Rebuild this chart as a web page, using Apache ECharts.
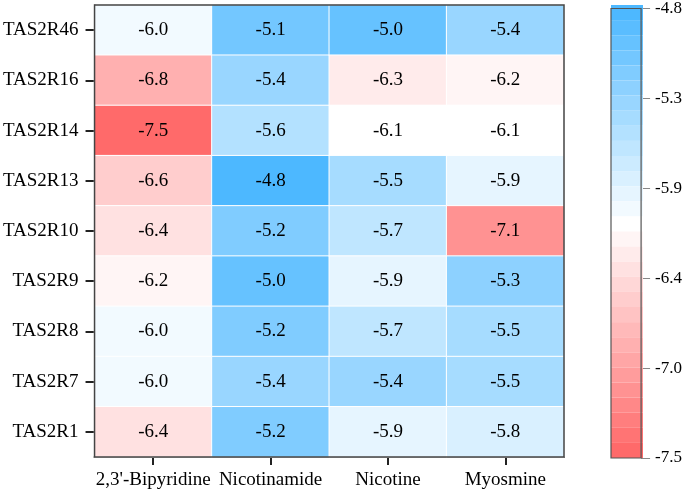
<!DOCTYPE html>
<html>
<head>
<meta charset="utf-8">
<style>html,body{margin:0;padding:0;background:#fff;}#c{width:685px;height:492px;}</style>
<script src="https://cdn.jsdelivr.net/npm/echarts@6/dist/echarts.min.js"></script>
</head>
<body>
<div id="c"></div>
<script>
const compounds = ["2,3'-Bipyridine", "Nicotinamide", "Nicotine", "Myosmine"];
const receptors = ["TAS2R46", "TAS2R16", "TAS2R14", "TAS2R13", "TAS2R10", "TAS2R9", "TAS2R8", "TAS2R7", "TAS2R1"];
const bipyridine  = [-6.0, -6.8, -7.5, -6.6, -6.4, -6.2, -6.0, -6.0, -6.4];
const nicotinamide = [-5.1, -5.4, -5.6, -4.8, -5.2, -5.0, -5.2, -5.4, -5.2];
const nicotine    = [-5.0, -6.3, -6.1, -5.5, -5.7, -5.9, -5.7, -5.4, -5.9];
const myosmine    = [-5.4, -6.2, -6.1, -5.9, -7.1, -5.3, -5.5, -5.5, -5.8];
const colorbarLabels = ["-7.5", "-7.0", "-6.4", "-5.9", "-5.3", "-4.8"];
const scaleMin = -7.5, scaleMax = -4.8, levels = 30, whiteLevel = 15;

const columns = [bipyridine, nicotinamide, nicotine, myosmine];
const data = [];
columns.forEach((col, ci) => col.forEach((v, ri) => data.push([ci, ri, v])));

// colour ramp style: red -> white (at level 15) -> blue
const RED = [255, 106, 106], WHITE = [255, 255, 255], BLUE = [77, 184, 255];
function mix(a, b, t) { return 'rgb(' + a.map((x, i) => Math.round(x + (b[i] - x) * t)).join(',') + ')'; }
const ramp = [];
for (let i = 0; i < levels; i++) {
  ramp.push(i <= whiteLevel ? mix(RED, WHITE, i / whiteLevel)
                            : mix(WHITE, BLUE, (i - whiteLevel) / (levels - 1 - whiteLevel)));
}

const FONT = "Liberation Serif";
const chart = echarts.init(document.getElementById('c'));
chart.setOption({
  animation: false,
  backgroundColor: '#fff',
  grid: [
    {left: 93, top: 5, width: 471, height: 452, show: true, z: 10, backgroundColor: 'transparent', borderColor: '#444', borderWidth: 1.5},
    {left: 611, top: 5, width: 32, height: 453, show: true, z: 10, backgroundColor: 'transparent', borderColor: '#555', borderWidth: 1.2}
  ],
  xAxis: [
    {type: 'category', gridIndex: 0, data: compounds, position: 'bottom',
     axisLine: {show: true, lineStyle: {color: '#222', width: 2}},
     axisTick: {show: true, alignWithLabel: true, length: 8, lineStyle: {color: '#222', width: 2}},
     axisLabel: {fontFamily: FONT, fontSize: 19, color: '#000', margin: 14, interval: 0},
     splitLine: {show: false}},
    {type: 'category', gridIndex: 1, data: ['c'], show: false}
  ],
  yAxis: [
    {type: 'category', gridIndex: 0, data: receptors, inverse: true,
     axisLine: {show: true, lineStyle: {color: '#222', width: 2}},
     axisTick: {show: true, alignWithLabel: true, length: 9, lineStyle: {color: '#222', width: 2}},
     axisLabel: {fontFamily: FONT, fontSize: 19, color: '#000', margin: 16},
     splitLine: {show: false}},
    {type: 'category', gridIndex: 1, data: colorbarLabels, position: 'right', boundaryGap: false,
     axisLine: {show: false},
     axisTick: {show: true, inside: false, length: 9, lineStyle: {color: '#888', width: 1}},
     axisLabel: {fontFamily: FONT, fontSize: 17, color: '#000', margin: 14, interval: 0},
     splitLine: {show: false}}
  ],
  visualMap: {
    type: 'piecewise', min: scaleMin, max: scaleMax, splitNumber: levels,
    orient: 'vertical', left: 611, top: 5, padding: 0,
    itemWidth: 32, itemHeight: 453 / levels, itemGap: 0, itemSymbol: 'rect',
    showLabel: false, hoverLink: false, seriesIndex: 0,
    inRange: {color: ramp}
  },
  series: [{
    type: 'heatmap', xAxisIndex: 0, yAxisIndex: 0, data: data,
    itemStyle: {borderColor: '#fff', borderWidth: 1},
    label: {show: true, fontFamily: FONT, fontSize: 19, color: '#000',
            formatter: p => p.value[2].toFixed(1)},
    emphasis: {disabled: true}
  }]
});
</script>
</body>
</html>
